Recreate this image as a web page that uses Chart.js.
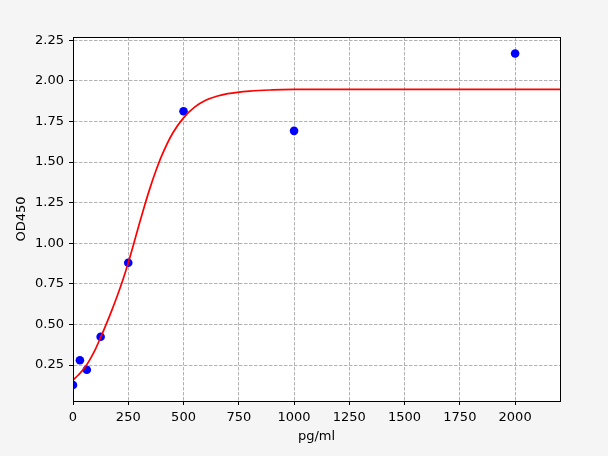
<!DOCTYPE html>
<html>
<head>
<meta charset="utf-8">
<script src="https://cdn.jsdelivr.net/npm/chart.js@4/dist/chart.umd.min.js"></script>
<style>
html,body{margin:0;padding:0;background:#f5f5f5;}
canvas{display:block;}
</style>
</head>
<body>
<canvas id="c" width="608" height="456"></canvas>
<script>
// Measured standard points
const concX = [0, 31.25, 62.5, 125, 250, 500, 1000, 2000];
const odY   = [0.127, 0.279, 0.221, 0.424, 0.880, 1.813, 1.692, 2.168];

// Fitted curve
const curveX = [0, 25, 50, 75, 100, 125, 150, 175, 200, 225, 250, 275, 300, 325, 350, 375, 400, 450, 500, 550, 600, 650, 700, 800, 900, 1000, 1200, 1500, 2000, 2203];
const curveY = [0.158, 0.19, 0.228, 0.28, 0.343, 0.42, 0.50, 0.585, 0.675, 0.772, 0.88, 0.998, 1.12, 1.237, 1.347, 1.446, 1.535, 1.676, 1.772, 1.838, 1.88, 1.905, 1.921, 1.937, 1.944, 1.947, 1.948, 1.948, 1.948, 1.948];

const xTicks = [0, 250, 500, 750, 1000, 1250, 1500, 1750, 2000];
const yTicks = [0.25, 0.50, 0.75, 1.00, 1.25, 1.50, 1.75, 2.00, 2.25];

const FONT = {family: 'DejaVu Sans', size: 13};

const bgPlugin = {
  id: 'bg',
  beforeDraw(chart) {
    const {ctx, chartArea: a} = chart;
    ctx.save();
    ctx.fillStyle = '#f5f5f5';
    ctx.fillRect(0, 0, chart.width, chart.height);
    ctx.fillStyle = '#ffffff';
    ctx.fillRect(a.left, a.top, a.right - a.left, a.bottom - a.top);
    ctx.restore();
  },
  afterDraw(chart) {
    const {ctx, chartArea: a} = chart;
    ctx.save();
    ctx.strokeStyle = '#000';
    ctx.lineWidth = 1;
    ctx.setLineDash([]);
    ctx.strokeRect(Math.round(a.left) + 0.5, Math.round(a.top) + 0.5, Math.round(a.right - a.left), Math.round(a.bottom - a.top));
    ctx.restore();
  }
};

const gridOpts = {
  color: '#aaaaaa',
  lineWidth: 0.9,
  drawTicks: true,
  tickLength: 4,
  tickColor: '#000',
  tickWidth: 1,
  tickBorderDash: []
};
const borderOpts = {display: true, color: '#000', width: 1, dash: [3.5, 1.5]};

new Chart(document.getElementById('c'), {
  data: {
    datasets: [
      {
        type: 'line',
        data: curveX.map((x, i) => ({x: x, y: curveY[i]})),
        borderColor: '#ff0000',
        borderWidth: 1.7,
        pointRadius: 0,
        cubicInterpolationMode: 'monotone',
        fill: false
      },
      {
        type: 'scatter',
        data: concX.map((x, i) => ({x: x, y: odY[i]})),
        backgroundColor: '#0000ff',
        borderColor: '#0000ff',
        pointRadius: 4.3,
        borderWidth: 0
      }
    ]
  },
  options: {
    responsive: false,
    devicePixelRatio: 1,
    animation: false,
    layout: {padding: {left: 0, top: 37, right: 48, bottom: 0}},
    plugins: {legend: {display: false}, tooltip: {enabled: false}},
    scales: {
      x: {
        type: 'linear',
        min: 0,
        max: 2203,
        afterFit(s) { s.height = 55; },
        afterBuildTicks(s) { s.ticks = xTicks.map(v => ({value: v})); },
        ticks: {font: FONT, color: '#000', padding: 5, maxRotation: 0, callback: v => String(v)},
        grid: gridOpts,
        border: borderOpts,
        title: {display: true, text: 'pg/ml', font: FONT, color: '#000', padding: {top: 0, bottom: 12}}
      },
      y: {
        type: 'linear',
        min: 0.0285,
        max: 2.27,
        afterFit(s) { s.width = 73; },
        afterBuildTicks(s) { s.ticks = yTicks.map(v => ({value: v})); },
        ticks: {font: FONT, color: '#000', padding: 5, callback: v => Number(v).toFixed(2)},
        grid: gridOpts,
        border: borderOpts,
        title: {display: true, text: 'OD450', font: FONT, color: '#000', padding: {top: 14, bottom: 0}}
      }
    }
  },
  plugins: [bgPlugin]
});
</script>
</body>
</html>
